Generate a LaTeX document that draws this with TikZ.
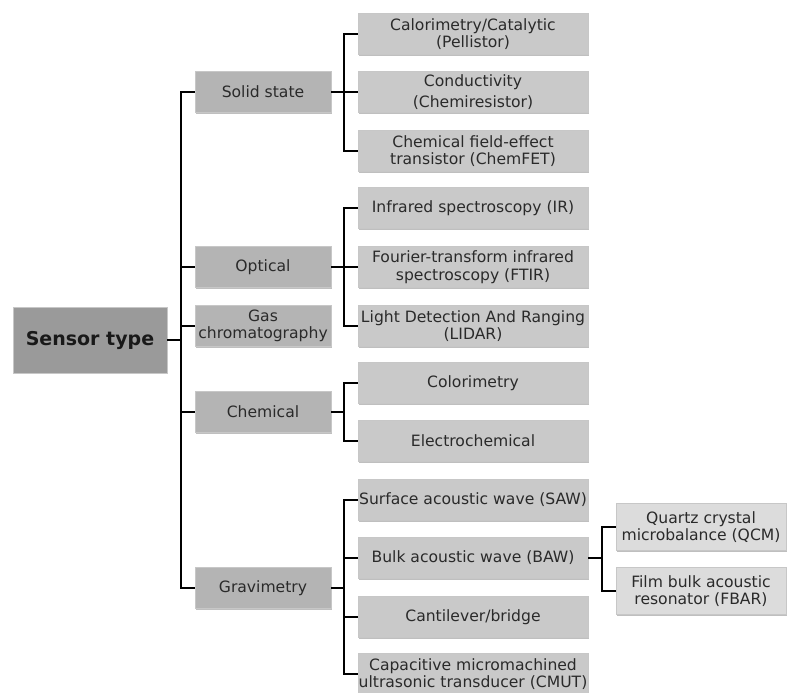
\documentclass[tikz,border=0pt]{standalone}
\usepackage{fontspec}
\setmainfont{DejaVu Sans}
\usetikzlibrary{shadows}
\definecolor{rootfill}{HTML}{9A9A9A}
\definecolor{lonefill}{HTML}{B4B4B4}
\definecolor{ltwofill}{HTML}{C9C9C9}
\definecolor{lthreefill}{HTML}{DCDCDC}
\definecolor{txt}{HTML}{2A2A2A}
\tikzset{
  boxbase/.style={rectangle, draw=black!22, line width=0.4pt, align=center, text=txt,
    inner sep=0pt, font=\fontsize{15.6}{17.6}\selectfont,
    drop shadow={shadow xshift=1.2pt, shadow yshift=-1.2pt, opacity=0.25, fill=black}},
  rootbox/.style={boxbase, fill=rootfill, minimum width=154pt, minimum height=66pt,
    font=\fontsize{19}{22}\selectfont\bfseries, text=black!90},
  lonebox/.style={boxbase, fill=lonefill, minimum width=136pt, minimum height=41pt},
  ltwobox/.style={boxbase, fill=ltwofill, minimum width=230pt, minimum height=41pt},
  lthreebox/.style={boxbase, fill=lthreefill, minimum width=170pt, minimum height=47pt},
  link/.style={draw=black, line width=1.8pt, line join=miter}
}
\begin{document}
\begin{tikzpicture}[x=1pt,y=-1pt]
\useasboundingbox (0,0) rectangle (787,693);
% root
\node[rootbox] (root) at (90,340) {Sensor type};
% level 1
\node[lonebox] (ss)   at (263,92)  {Solid state};
\node[lonebox] (opt)  at (263,267) {Optical};
\node[lonebox] (gc)   at (263,326) {Gas\\chromatography};
\node[lonebox] (chem) at (263,412) {Chemical};
\node[lonebox] (grav) at (263,588) {Gravimetry};
% level 2
\node[ltwobox] (cal)  at (473,34)  {Calorimetry/Catalytic\\(Pellistor)};
\node[ltwobox] (cond) at (473,92)  {Conductivity\\[4pt](Chemiresistor)};
\node[ltwobox] (fet)  at (473,151) {Chemical field-effect\\transistor (ChemFET)};
\node[ltwobox] (ir)   at (473,208) {Infrared spectroscopy (IR)};
\node[ltwobox] (ftir) at (473,267) {Fourier-transform infrared\\spectroscopy (FTIR)};
\node[ltwobox] (lid)  at (473,326) {Light Detection And Ranging\\(LIDAR)};
\node[ltwobox] (col)  at (473,383) {Colorimetry};
\node[ltwobox] (elec) at (473,441) {Electrochemical};
\node[ltwobox] (saw)  at (473,500) {Surface acoustic wave (SAW)};
\node[ltwobox] (baw)  at (473,558) {Bulk acoustic wave (BAW)};
\node[ltwobox] (cant) at (473,617) {Cantilever/bridge};
\node[ltwobox] (cmut) at (473,674) {Capacitive micromachined\\ultrasonic transducer (CMUT)};
% level 3
\node[lthreebox] (qcm)  at (701,527) {Quartz crystal\\microbalance (QCM)};
\node[lthreebox] (fbar) at (701,591) {Film bulk acoustic\\resonator (FBAR)};
% connectors
\foreach \c in {ss,opt,gc,chem,grav}
  \draw[link] (root.east) -- ++(14,0) |- (\c.west);
\foreach \c in {cal,cond,fet}
  \draw[link] (ss.east) -- ++(13,0) |- (\c.west);
\foreach \c in {ir,ftir,lid}
  \draw[link] (opt.east) -- ++(13,0) |- (\c.west);
\foreach \c in {col,elec}
  \draw[link] (chem.east) -- ++(13,0) |- (\c.west);
\foreach \c in {saw,baw,cant,cmut}
  \draw[link] (grav.east) -- ++(13,0) |- (\c.west);
\foreach \c in {qcm,fbar}
  \draw[link] (baw.east) -- ++(14,0) |- (\c.west);
\end{tikzpicture}
\end{document}
